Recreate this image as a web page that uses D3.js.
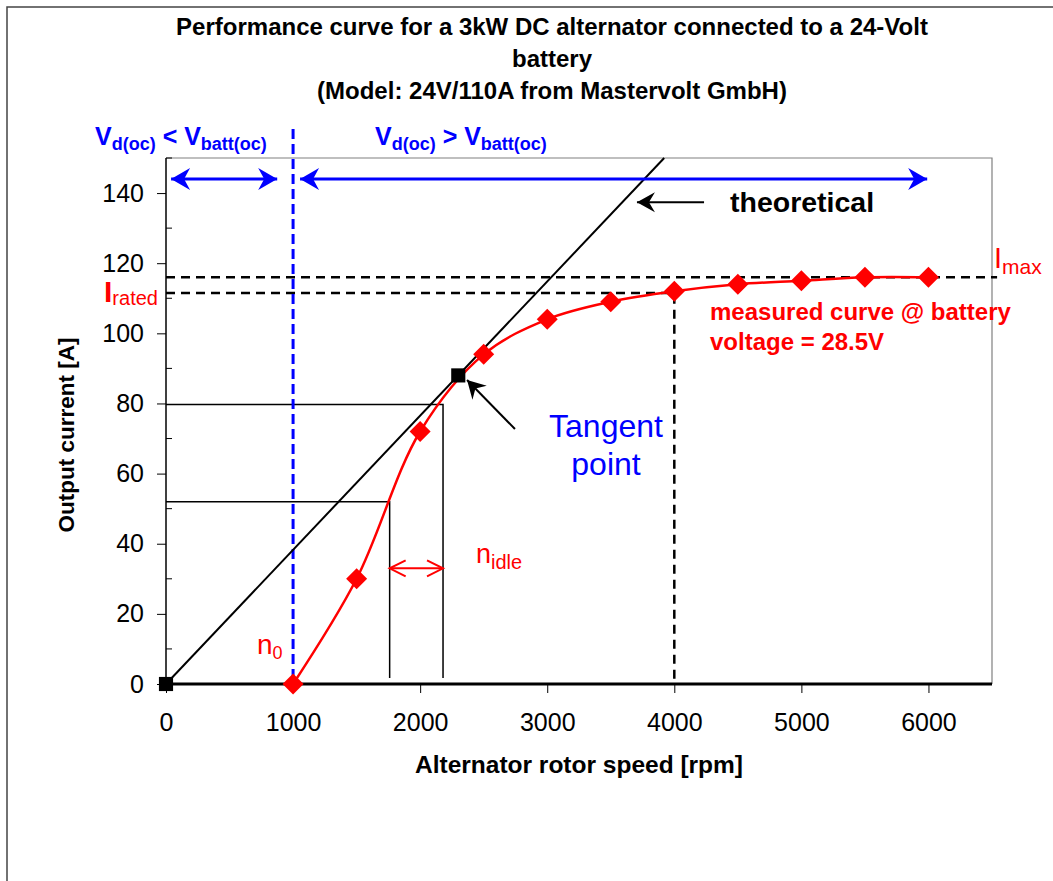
<!DOCTYPE html>
<html>
<head>
<meta charset="utf-8">
<title>Alternator performance curve</title>
<script src="https://d3js.org/d3.v7.min.js"></script>
<style>
  html, body { margin: 0; padding: 0; background: #fff; overflow: hidden; }
  svg { display: block; }
  svg text { font-family: Arial, "Liberation Sans", sans-serif; }
  .axis .domain { display: none; }
  .axis .tick text { font-size: 25px; fill: #000; }
  .axis .tick line { stroke: #000; stroke-width: 1; }
</style>
</head>
<body>
<svg width="1053" height="881"></svg>
<script>
// measured curve @ battery voltage 28.5 V
const speedRpm = [1000, 1500, 2000, 2500, 3000, 3500, 4000, 4500, 5000, 5500, 6000];
const currentA = [0, 30, 72, 94, 104, 109, 112, 114, 115, 116, 116];

// black squares: origin and tangent point (theoretical line passes both)
const tangentSpeed = [0, 2300];
const tangentCurrent = [0, 88];

// reference levels
const iMax = 116;
const iRated = 111.5;
const ratedSpeed = 4000;
const n0Speed = 1000;
const idleSpeeds = [1760, 2180];
const idleCurrents = [52, 79.7];

const xTicks = [0, 1000, 2000, 3000, 4000, 5000, 6000];
const yTicks = [0, 20, 40, 60, 80, 100, 120, 140];
const yMinorTicks = [10, 30, 50, 70, 90, 110, 130, 150];

const titleLines = [
  "Performance curve for a 3kW DC alternator connected to a 24-Volt",
  "battery",
  "(Model: 24V/110A from Mastervolt GmbH)"
];

const RED = "#ff0000", BLUE = "#0000ff";

const svg = d3.select("svg");
const margin = {top: 158, left: 166};
const innerWidth = 826, innerHeight = 526;

// outer frame of the chart object (right and bottom edges lie outside the view)
svg.append("path")
  .attr("d", "M7,881V7H1053")
  .attr("fill", "none").attr("stroke", "#444").attr("stroke-width", 1.5);

// arrow heads
const defs = svg.append("defs");
function filledHead(id, color, len, half, notch) {
  defs.append("marker").attr("id", id)
    .attr("markerUnits", "userSpaceOnUse")
    .attr("viewBox", `${-len - 2} ${-half - 2} ${len + 4} ${2 * half + 4}`)
    .attr("markerWidth", len + 4).attr("markerHeight", 2 * half + 4)
    .attr("refX", 0).attr("refY", 0)
    .attr("orient", "auto-start-reverse")
    .append("path")
      .attr("d", `M0,0L${-len},${-half}L${-len + notch},0L${-len},${half}Z`)
      .attr("fill", color);
}
filledHead("head-blue", BLUE, 19, 11, 6);
filledHead("head-black", "#000", 18, 10, 6);
defs.append("marker").attr("id", "head-red")
  .attr("markerUnits", "userSpaceOnUse")
  .attr("viewBox", "-20 -11 24 22")
  .attr("markerWidth", 24).attr("markerHeight", 22)
  .attr("refX", 0).attr("refY", 0)
  .attr("orient", "auto-start-reverse")
  .append("path")
    .attr("d", "M-16,-8L0,0L-16,8")
    .attr("fill", "none").attr("stroke", RED).attr("stroke-width", 2);

// title
svg.append("g").selectAll("text").data(titleLines).join("text")
  .attr("x", 552).attr("y", (d, i) => 35 + i * 32)
  .attr("text-anchor", "middle")
  .attr("font-size", 24).attr("font-weight", "bold")
  .text(d => d);

const x = d3.scaleLinear().domain([0, 6500]).range([0, innerWidth]);
const y = d3.scaleLinear().domain([0, 150]).range([innerHeight, 0]);

const g = svg.append("g").attr("transform", `translate(${margin.left},${margin.top})`);

// plot frame: grey top/right, black axes
g.append("path")
  .attr("d", `M0,0H${innerWidth}V${innerHeight}`)
  .attr("fill", "none").attr("stroke", "#808080").attr("stroke-width", 1.2);

g.append("g").attr("class", "axis")
  .call(d3.axisLeft(y).tickValues(yTicks).tickSize(9).tickPadding(13).tickSizeOuter(0));
g.append("g").selectAll("line").data(yMinorTicks).join("line")
  .attr("x1", 0).attr("x2", 6)
  .attr("y1", d => y(d)).attr("y2", d => y(d))
  .attr("stroke", "#000");

g.append("g").attr("class", "axis")
  .attr("transform", `translate(0,${innerHeight})`)
  .call(d3.axisBottom(x).tickValues(xTicks).tickFormat(d3.format("d"))
    .tickSize(9).tickPadding(20).tickSizeOuter(0));

g.append("line").attr("x1", 0).attr("x2", 0).attr("y1", 0).attr("y2", innerHeight)
  .attr("stroke", "#000").attr("stroke-width", 1.5);
g.append("line").attr("x1", 0).attr("x2", innerWidth).attr("y1", innerHeight).attr("y2", innerHeight)
  .attr("stroke", "#000").attr("stroke-width", 3);

// axis titles
svg.append("text")
  .attr("x", 579).attr("y", 773)
  .attr("text-anchor", "middle").attr("font-size", 24.5).attr("font-weight", "bold")
  .text("Alternator rotor speed [rpm]");
svg.append("text")
  .attr("transform", "translate(74,435) rotate(-90)")
  .attr("text-anchor", "middle").attr("font-size", 22.5).attr("font-weight", "bold")
  .text("Output current [A]");

// thin guide lines for the idle speed range
idleSpeeds.forEach((s, i) => {
  g.append("path")
    .attr("d", `M${x(0)},${y(idleCurrents[i])}H${x(s)}V${y(1.7)}`)
    .attr("fill", "none").attr("stroke", "#000").attr("stroke-width", 1.5);
});

// dashed reference levels
const dash = {stroke: "#000", "stroke-width": 2.5, "stroke-dasharray": "9,6", fill: "none"};
function styled(sel, s) { Object.entries(s).forEach(([k, v]) => sel.attr(k, v)); return sel; }
styled(g.append("path").attr("d", `M${x(0)},${y(iMax)}H${x(6540)}`), dash);
styled(g.append("path").attr("d", `M${x(0)},${y(iRated)}H${x(ratedSpeed)}V${y(0)}`), dash);

// blue dashed boundary at n0
g.append("line")
  .attr("x1", x(n0Speed)).attr("x2", x(n0Speed))
  .attr("y1", -29).attr("y2", y(0))
  .attr("stroke", BLUE).attr("stroke-width", 3).attr("stroke-dasharray", "10,5");

// theoretical line from origin through the tangent point to top of plot
const slope = tangentCurrent[1] / tangentSpeed[1];
const yTop = y.domain()[1];
g.append("line")
  .attr("x1", x(0)).attr("y1", y(0))
  .attr("x2", x(yTop / slope)).attr("y2", y(yTop))
  .attr("stroke", "#000").attr("stroke-width", 2);

// measured curve
const measured = speedRpm.map((s, i) => [s, currentA[i]]);
g.append("path")
  .datum(measured)
  .attr("d", d3.line().x(d => x(d[0])).y(d => y(d[1])).curve(d3.curveCatmullRom.alpha(0.5)))
  .attr("fill", "none").attr("stroke", RED).attr("stroke-width", 2.5);

g.append("g").selectAll("path").data(measured).join("path")
  .attr("transform", d => `translate(${x(d[0])},${y(d[1])})`)
  .attr("d", "M0,-10.5L10.5,0L0,10.5L-10.5,0Z")
  .attr("fill", RED);

g.append("g").selectAll("path").data(tangentSpeed.map((s, i) => [s, tangentCurrent[i]])).join("path")
  .attr("transform", d => `translate(${x(d[0])},${y(d[1])})`)
  .attr("d", d3.symbol(d3.symbolSquare, 200))
  .attr("fill", "#000");

// arrows
function arrow(x1, y1, x2, y2, color, width, head, both) {
  const l = g.append("line")
    .attr("x1", x(x1)).attr("y1", y(y1)).attr("x2", x(x2)).attr("y2", y(y2))
    .attr("stroke", color).attr("stroke-width", width)
    .attr("marker-end", `url(#${head})`);
  if (both) l.attr("marker-start", `url(#${head})`);
}
arrow(40, 144, 875, 144, BLUE, 3, "head-blue", true);
arrow(1055, 144, 5990, 144, BLUE, 3, "head-blue", true);
arrow(4234, 137.4, 3706, 137.4, "#000", 2, "head-black", false);
arrow(2746, 72.7, 2369, 86.7, "#000", 2, "head-black", false);
arrow(idleSpeeds[0], 33, idleSpeeds[1], 33, RED, 2, "head-red", true);

// annotations
function label(xp, yp, parts, color) {
  const t = svg.append("text").attr("x", xp).attr("y", yp).attr("fill", color);
  parts.forEach(p => {
    t.append("tspan")
      .attr("font-size", p.size)
      .attr("font-weight", p.bold ? "bold" : "normal")
      .attr("dy", p.dy || 0)
      .text(p.text);
  });
  return t;
}
label(95, 145, [
  {text: "V", size: 25, bold: true}, {text: "d(oc)", size: 18, bold: true, dy: 5},
  {text: " < V", size: 25, bold: true, dy: -5}, {text: "batt(oc)", size: 18, bold: true, dy: 5}
], BLUE);
label(375, 145, [
  {text: "V", size: 25, bold: true}, {text: "d(oc)", size: 18, bold: true, dy: 5},
  {text: " > V", size: 25, bold: true, dy: -5}, {text: "batt(oc)", size: 18, bold: true, dy: 5}
], BLUE);

label(730, 212, [{text: "theoretical", size: 28.5, bold: true}], "#000");

svg.append("g").selectAll("text").data(["Tangent", "point"]).join("text")
  .attr("x", 606).attr("y", (d, i) => 437 + i * 38)
  .attr("text-anchor", "middle").attr("font-size", 32).attr("fill", BLUE)
  .text(d => d);

label(710, 320, [{text: "measured curve @ battery", size: 24, bold: true}], RED);
label(710, 350, [{text: "voltage = 28.5V", size: 24, bold: true}], RED);

label(104, 302, [{text: "I", size: 30, bold: true}, {text: "rated", size: 20, dy: 3}], RED);
label(994, 268, [{text: "I", size: 29}, {text: "max", size: 21, dy: 6}], RED);
label(257, 654, [{text: "n", size: 28}, {text: "0", size: 18, dy: 5}], RED);
label(476, 563, [{text: "n", size: 27}, {text: "idle", size: 20, dy: 6}], RED);
</script>
</body>
</html>
